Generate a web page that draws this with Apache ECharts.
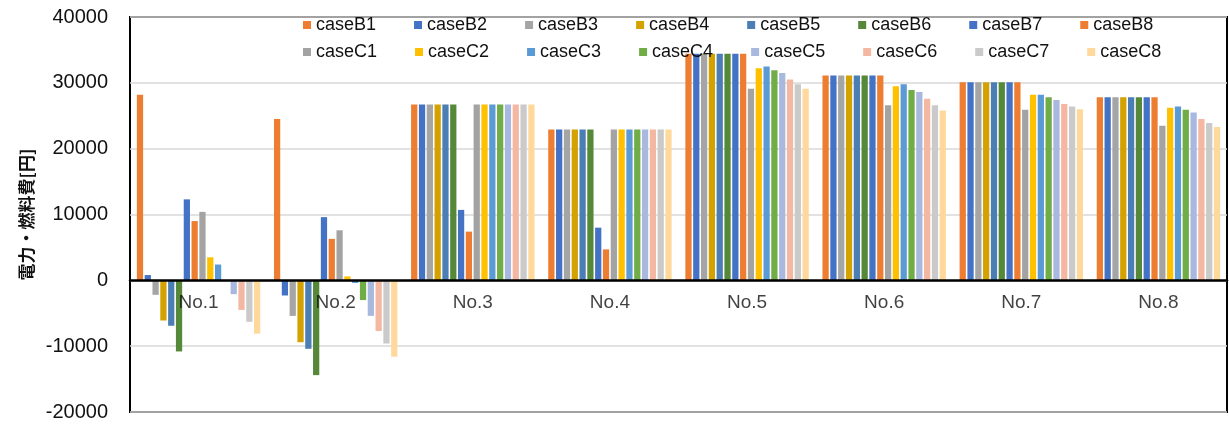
<!DOCTYPE html>
<html>
<head>
<meta charset="utf-8">
<script src="https://cdn.jsdelivr.net/npm/echarts@6/dist/echarts.min.js"></script>
<style>
  html, body { margin: 0; padding: 0; background: #fff; }
  #chart { width: 1229px; height: 426px; }
</style>
</head>
<body>
<div id="chart"></div>
<script>
// Categories (x axis)
const categories = ['No.1', 'No.2', 'No.3', 'No.4', 'No.5', 'No.6', 'No.7', 'No.8'];

// Cost per case [円]
const caseB1 = [28200, 24500, 26700, 22900, 34400, 31100, 30100, 27800];
const caseB2 = [800, -2300, 26700, 22900, 34400, 31100, 30100, 27800];
const caseB3 = [-2200, -5400, 26700, 22900, 34400, 31100, 30100, 27800];
const caseB4 = [-6100, -9400, 26700, 22900, 34400, 31100, 30100, 27800];
const caseB5 = [-6900, -10400, 26700, 22900, 34400, 31100, 30100, 27800];
const caseB6 = [-10800, -14400, 26700, 22900, 34400, 31100, 30100, 27800];
const caseB7 = [12300, 9600, 10700, 8000, 34400, 31100, 30100, 27800];
const caseB8 = [9000, 6300, 7400, 4700, 34400, 31100, 30100, 27800];
const caseC1 = [10400, 7600, 26700, 22900, 29100, 26600, 25900, 23500];
const caseC2 = [3500, 600, 26700, 22900, 32200, 29500, 28200, 26200];
const caseC3 = [2400, -400, 26700, 22900, 32500, 29800, 28200, 26400];
const caseC4 = [0, -3000, 26700, 22900, 31900, 28900, 27800, 25900];
const caseC5 = [-2100, -5400, 26700, 22900, 31500, 28600, 27400, 25500];
const caseC6 = [-4500, -7700, 26700, 22900, 30500, 27600, 26800, 24500];
const caseC7 = [-6300, -9600, 26700, 22900, 29800, 26600, 26400, 23900];
const caseC8 = [-8100, -11600, 26700, 22900, 29100, 25800, 26000, 23300];

const seriesNamesB = ['caseB1', 'caseB2', 'caseB3', 'caseB4', 'caseB5', 'caseB6', 'caseB7', 'caseB8'];
const seriesNamesC = ['caseC1', 'caseC2', 'caseC3', 'caseC4', 'caseC5', 'caseC6', 'caseC7', 'caseC8'];
const seriesValues = [caseB1, caseB2, caseB3, caseB4, caseB5, caseB6, caseB7, caseB8,
                      caseC1, caseC2, caseC3, caseC4, caseC5, caseC6, caseC7, caseC8];

// Y axis range
const yMin = -20000, yMax = 40000, yStep = 10000;

const colors = [
  '#ED7D31', '#4472C4', '#A5A5A5', '#D3A100', '#4A7EB5', '#56883A', '#4472C4', '#ED7D31',
  '#A3A3A3', '#FFC000', '#5B9BD5', '#70AD47', '#A9B8DF', '#F4B8A2', '#CACACA', '#FFD89B'
];

const FONT = '"Liberation Sans", Arial, sans-serif';

const allNames = seriesNamesB.concat(seriesNamesC);

// Legend laid out in two rows with fixed-width columns
const legendBase = {
  icon: 'rect',
  itemWidth: 8,
  itemHeight: 8,
  itemGap: 38,
  left: 298,
  orient: 'horizontal',
  selectedMode: false,
  textStyle: { fontFamily: FONT, fontSize: 18, color: '#111', width: 63, overflow: 'truncate', ellipsis: '' }
};

// Bars
const barSeries = allNames.map((name, i) => ({
  name: name,
  type: 'bar',
  data: seriesValues[i],
  barCategoryGap: '10%',
  barGap: '25%',
  itemStyle: { color: colors[i] }
}));

// Category names written just under the zero line, above the bars
const categoryLabelSeries = {
  name: 'categoryLabels',
  type: 'scatter',
  z: 10,
  silent: true,
  symbolSize: 1,
  itemStyle: { color: 'rgba(0,0,0,0)' },
  data: categories.map(c => [c, 0]),
  label: {
    show: true,
    position: 'bottom',
    distance: 12,
    formatter: p => p.value[0],
    fontFamily: FONT,
    fontSize: 19,
    color: '#111'
  },
  labelLayout: { hideOverlap: false }
};

const chart = echarts.init(document.getElementById('chart'), null, { renderer: 'canvas' });

chart.setOption({
  animation: false,
  color: colors,
  legend: [
    Object.assign({}, legendBase, { top: 11, data: seriesNamesB }),
    Object.assign({}, legendBase, { top: 38, data: seriesNamesC })
  ],
  grid: {
    left: 130, right: 2, top: 17, bottom: 14,
    show: true, borderColor: '#000', borderWidth: 2, containLabel: false
  },
  xAxis: {
    type: 'category',
    data: categories,
    z: 5,
    axisLine: { onZero: true, lineStyle: { color: '#000', width: 2.5 } },
    axisTick: { show: false },
    axisLabel: { show: false },
    splitLine: { show: false }
  },
  yAxis: {
    type: 'value',
    min: yMin, max: yMax, interval: yStep,
    name: '電力・燃料費[円]',
    nameLocation: 'middle',
    nameGap: 90,
    nameRotate: 90,
    nameTextStyle: { fontFamily: '"Noto Sans CJK JP", sans-serif', fontSize: 17, fontWeight: 'bold', color: '#111' },
    axisLine: { show: false },
    axisTick: { show: false },
    axisLabel: { margin: 22, fontFamily: FONT, fontSize: 20, color: '#111', formatter: v => String(v) },
    splitLine: { lineStyle: { color: '#d9d9d9', width: 1.5 } }
  },
  series: barSeries.concat([categoryLabelSeries])
});
</script>
</body>
</html>
